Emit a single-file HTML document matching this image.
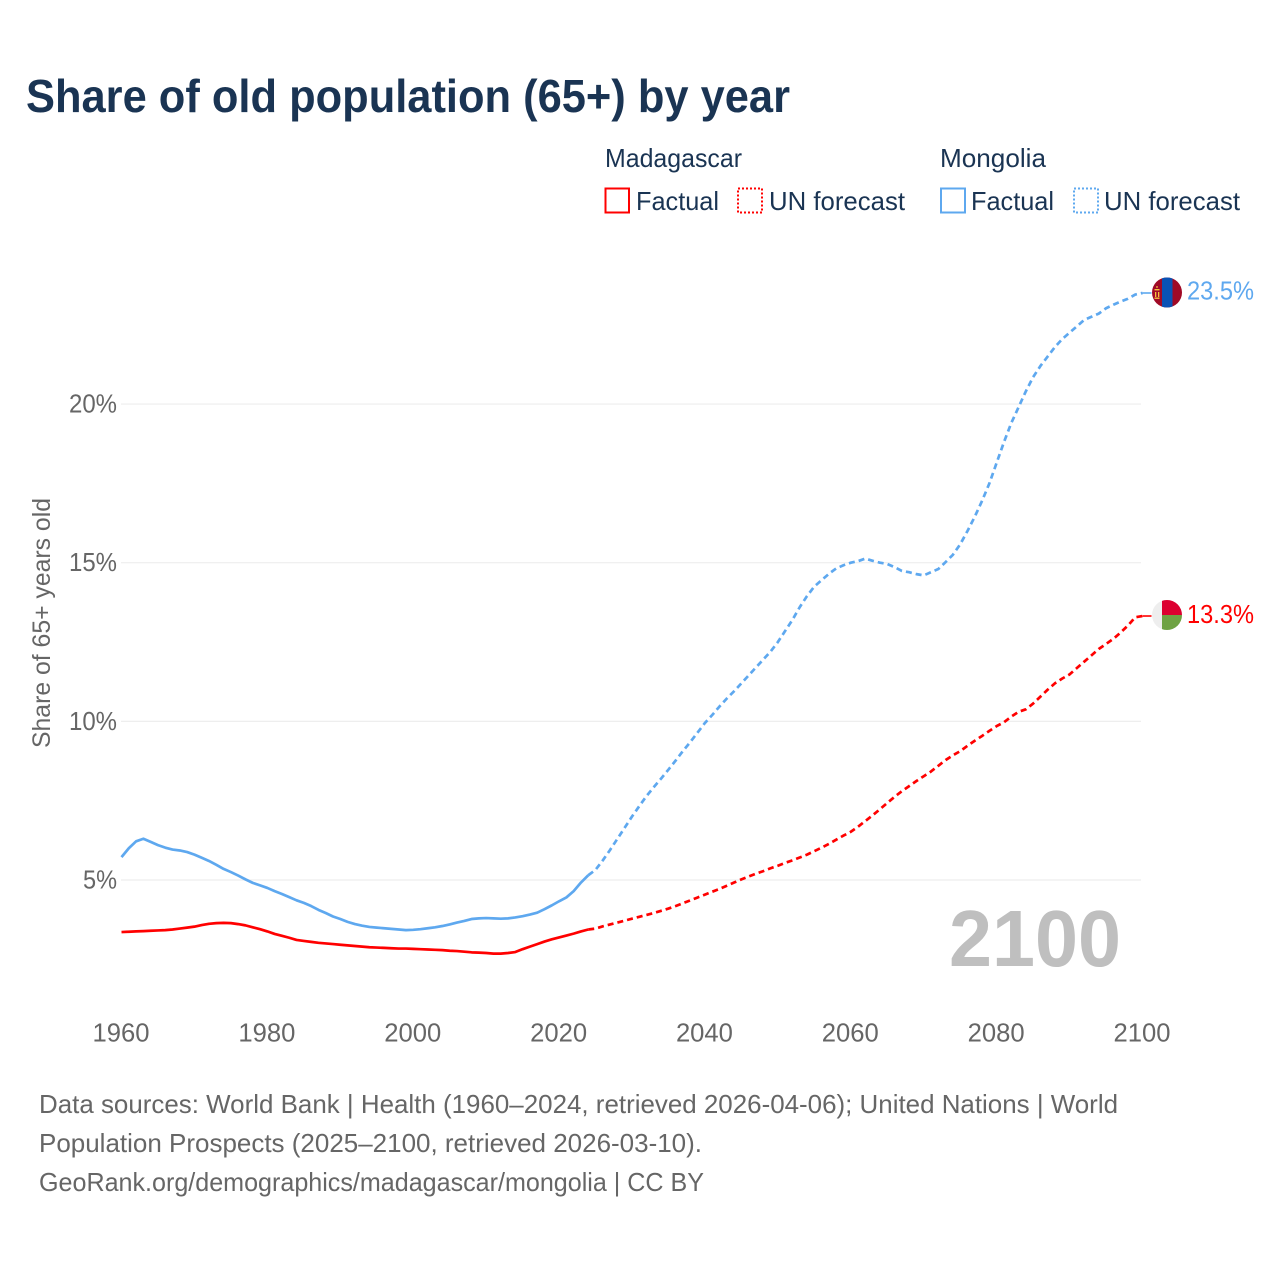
<!DOCTYPE html>
<html lang="en">
<head>
<meta charset="utf-8">
<title>Share of old population (65+) by year</title>
<style>
html,body{margin:0;padding:0;background:#fff;width:1280px;height:1280px;overflow:hidden}
svg{display:block}
text{font-family:"Liberation Sans",sans-serif}
</style>
</head>
<body>
<svg id="chart" xmlns="http://www.w3.org/2000/svg" width="1280" height="1280" viewBox="0 0 1280 1280">
  <defs>
    <clipPath id="flag-clip-mn"><circle cx="1167" cy="292.5" r="15"/></clipPath>
    <clipPath id="flag-clip-mg"><circle cx="1167" cy="615" r="15"/></clipPath>
  </defs>
  <text x="26" y="112" font-size="46" font-weight="700" fill="#1a3453" textLength="764" lengthAdjust="spacingAndGlyphs">Share of old population (65+) by year</text>

  <g fill="#1a3453" font-size="26">
    <text x="605" y="167" textLength="137" lengthAdjust="spacingAndGlyphs">Madagascar</text>
    <rect x="605.5" y="188.5" width="23.5" height="24" fill="none" stroke="#ff0000" stroke-width="2"/>
    <text x="636" y="210" textLength="83" lengthAdjust="spacingAndGlyphs">Factual</text>
    <rect x="738" y="188.5" width="24" height="24" fill="none" stroke="#ff0000" stroke-width="2" stroke-dasharray="2,2"/>
    <text x="769" y="210" textLength="136" lengthAdjust="spacingAndGlyphs">UN forecast</text>
    <text x="940" y="167" textLength="106" lengthAdjust="spacingAndGlyphs">Mongolia</text>
    <rect x="941" y="188.5" width="24" height="24" fill="none" stroke="#5ea8ef" stroke-width="2"/>
    <text x="971" y="210" textLength="83" lengthAdjust="spacingAndGlyphs">Factual</text>
    <rect x="1074" y="188.5" width="24" height="24" fill="none" stroke="#5ea8ef" stroke-width="2" stroke-dasharray="2,2"/>
    <text x="1104" y="210" textLength="136" lengthAdjust="spacingAndGlyphs">UN forecast</text>
  </g>

  <g id="grid"></g>
  <g id="y-ticks"></g>
  <g id="x-ticks"></g>
  <text transform="translate(50,748) rotate(-90)" font-size="25" fill="#666666" textLength="250" lengthAdjust="spacingAndGlyphs">Share of 65+ years old</text>

  <text id="year-watermark" x="949" y="966" font-size="80" font-weight="700" fill="#bfbfbf" textLength="172" lengthAdjust="spacingAndGlyphs">2100</text>

  <g id="series"></g>

  <g clip-path="url(#flag-clip-mn)">
    <rect x="1152" y="277" width="31" height="31" fill="#a00a26"/>
    <rect x="1162" y="277" width="10.5" height="31" fill="#0a52b5"/>
    <rect x="1154.5" y="289" width="5" height="1.4" fill="#f4c33c"/>
    <rect x="1155" y="292" width="1.3" height="5" fill="#f4c33c"/>
    <rect x="1158" y="292" width="1.3" height="5" fill="#f4c33c"/>
    <rect x="1154.5" y="297.5" width="5" height="1.4" fill="#f4c33c"/>
    <rect x="1156.4" y="286" width="1.2" height="2" fill="#f4c33c"/>
  </g>
  <g clip-path="url(#flag-clip-mg)">
    <rect x="1152" y="600" width="31" height="31" fill="#eeeeee"/>
    <rect x="1162" y="600" width="21" height="15" fill="#dc0030"/>
    <rect x="1162" y="615" width="21" height="16" fill="#6ea243"/>
  </g>
  <g id="end-labels"></g>

  <g fill="#666666" font-size="26">
    <text x="39" y="1113" textLength="1079" lengthAdjust="spacingAndGlyphs">Data sources: World Bank | Health (1960–2024, retrieved 2026-04-06); United Nations | World</text>
    <text x="39" y="1152" textLength="663" lengthAdjust="spacingAndGlyphs">Population Prospects (2025–2100, retrieved 2026-03-10).</text>
    <text x="39" y="1191" textLength="665" lengthAdjust="spacingAndGlyphs">GeoRank.org/demographics/madagascar/mongolia | CC BY</text>
  </g>
</svg>
<script>
const xTickYears = [1960, 1980, 2000, 2020, 2040, 2060, 2080, 2100];
const xTickLabels = ["1960", "1980", "2000", "2020", "2040", "2060", "2080", "2100"];
const yTickValues = [5, 10, 15, 20];
const yTickLabels = ["5%", "10%", "15%", "20%"];
const factualStartYear = 1960;
const forecastStartYear = 2025;
const endLabelMongolia = "23.5%";
const endLabelMadagascar = "13.3%";

const madagascarFactual = [
  3.36,3.37,3.38,3.39,3.40,3.41,3.42,3.44,3.47,3.50,
  3.53,3.58,3.62,3.64,3.65,3.64,3.61,3.57,3.51,3.45,
  3.38,3.30,3.24,3.18,3.11,3.08,3.05,3.02,3.00,2.98,
  2.96,2.94,2.92,2.90,2.88,2.87,2.86,2.85,2.84,2.84,
  2.83,2.82,2.81,2.80,2.79,2.77,2.76,2.74,2.72,2.71,
  2.70,2.68,2.68,2.70,2.73,2.82,2.90,2.98,3.06,3.13,
  3.19,3.25,3.31,3.38,3.44
];
const madagascarForecast = [
  3.47,3.54,3.60,3.66,3.72,
  3.78,3.84,3.90,3.96,4.03,4.10,4.18,4.27,4.36,4.45,
  4.54,4.63,4.72,4.82,4.92,5.02,5.11,5.20,5.28,5.37,
  5.45,5.54,5.62,5.71,5.80,5.91,6.02,6.14,6.27,6.40,
  6.52,6.68,6.86,7.04,7.23,7.43,7.62,7.80,7.96,8.12,
  8.27,8.42,8.60,8.78,8.93,9.06,9.23,9.39,9.54,9.70,
  9.85,9.97,10.15,10.30,10.38,10.56,10.78,11.00,11.20,11.35,
  11.48,11.68,11.88,12.08,12.28,12.44,12.60,12.80,13.02,13.28,
  13.32
];
const mongoliaFactual = [
  5.72,6.00,6.22,6.30,6.20,6.10,6.02,5.96,5.93,5.88,
  5.80,5.70,5.60,5.48,5.35,5.25,5.14,5.02,4.91,4.83,
  4.75,4.65,4.56,4.46,4.36,4.28,4.18,4.06,3.96,3.85,
  3.77,3.68,3.61,3.56,3.52,3.50,3.48,3.46,3.44,3.42,
  3.43,3.45,3.48,3.51,3.55,3.60,3.66,3.71,3.77,3.79,
  3.80,3.79,3.78,3.79,3.82,3.86,3.91,3.97,4.08,4.20,
  4.33,4.45,4.65,4.92,5.15
];
const mongoliaForecast = [
  5.32,5.62,5.95,6.30,6.65,
  7.00,7.33,7.65,7.93,8.20,8.48,8.77,9.07,9.35,9.65,
  9.95,10.20,10.47,10.72,10.95,11.20,11.45,11.70,11.95,12.20,
  12.50,12.85,13.20,13.60,13.95,14.25,14.45,14.65,14.82,14.92,
  15.00,15.05,15.13,15.06,15.00,14.96,14.86,14.74,14.70,14.64,
  14.60,14.70,14.80,15.02,15.25,15.58,16.00,16.45,16.95,17.50,
  18.15,18.80,19.40,19.90,20.40,20.85,21.20,21.50,21.80,22.05,
  22.25,22.45,22.65,22.75,22.85,23.02,23.13,23.23,23.32,23.45,
  23.50
];

const svgNS = "http://www.w3.org/2000/svg";
function xScale(year) { return 121.5 + (year - 1960) * 7.293; }
function yScale(value) { return 880 - (value - 5) * 31.73; }
function addText(parent, x, y, str, size, fill, anchor, width) {
  const t = document.createElementNS(svgNS, "text");
  t.setAttribute("x", x);
  t.setAttribute("y", y);
  t.setAttribute("font-size", size);
  t.setAttribute("fill", fill);
  if (anchor) t.setAttribute("text-anchor", anchor);
  if (width) {
    t.setAttribute("textLength", width);
    t.setAttribute("lengthAdjust", "spacingAndGlyphs");
  }
  t.textContent = str;
  parent.appendChild(t);
  return t;
}
function linePath(points) {
  return points.map((p, i) => (i ? "L" : "M") + p[0].toFixed(2) + " " + p[1].toFixed(2)).join(" ");
}
function addLine(parent, points, color, dash) {
  const p = document.createElementNS(svgNS, "path");
  p.setAttribute("d", linePath(points));
  p.setAttribute("fill", "none");
  p.setAttribute("stroke", color);
  p.setAttribute("stroke-width", "2.7");
  p.setAttribute("stroke-linejoin", "round");
  if (dash) p.setAttribute("stroke-dasharray", dash);
  parent.appendChild(p);
  return p;
}

const gridG = document.getElementById("grid");
const yG = document.getElementById("y-ticks");
yTickValues.forEach((v, i) => {
  const l = document.createElementNS(svgNS, "line");
  l.setAttribute("x1", 121);
  l.setAttribute("x2", 1141);
  l.setAttribute("y1", yScale(v));
  l.setAttribute("y2", yScale(v));
  l.setAttribute("stroke", "#eeeeee");
  l.setAttribute("stroke-width", "1.2");
  
  
  gridG.appendChild(l);
  const w = yTickLabels[i].length === 2 ? 34 : 48;
  const t = addText(yG, 117 - w, yScale(v) + 8.5, yTickLabels[i], 26, "#666666", null, w);
  
  
});

const xG = document.getElementById("x-ticks");
xTickYears.forEach((yr, i) => {
  const t = addText(xG, xScale(yr) - 0.5, 1041.5, xTickLabels[i], 26, "#666666", "middle", 57);
  
  
});

function drawSeries(name, factual, forecast, color) {
  const g = document.getElementById("series");
  const fPts = factual.map((v, i) => [xScale(factualStartYear + i), yScale(v)]);
  const cPts = forecast.map((v, i) => [xScale(forecastStartYear + i), yScale(v)]);
  const solid = addLine(g, fPts, color, null);
  
  
  const dashed = addLine(g, [fPts[fPts.length - 1]].concat(cPts), color, "6,4");
  
  
  const last = cPts[cPts.length - 1];
  const tail = addLine(g, [last, [last[0] + 9, last[1]]], color, null);
  tail.setAttribute("stroke-width", "1.6");
  
  
}
drawSeries("madagascar", madagascarFactual, madagascarForecast, "#ff0000");
drawSeries("mongolia", mongoliaFactual, mongoliaForecast, "#5ea8ef");

const endG = document.getElementById("end-labels");
const mnLabel = addText(endG, 1187, yScale(mongoliaForecast[mongoliaForecast.length - 1]) + 6.5, endLabelMongolia, 26, "#5ea8ef", null, 67);


const mgLabel = addText(endG, 1187, yScale(madagascarForecast[madagascarForecast.length - 1]) + 7, endLabelMadagascar, 26, "#ff0000", null, 67);


</script>
</body>
</html>
